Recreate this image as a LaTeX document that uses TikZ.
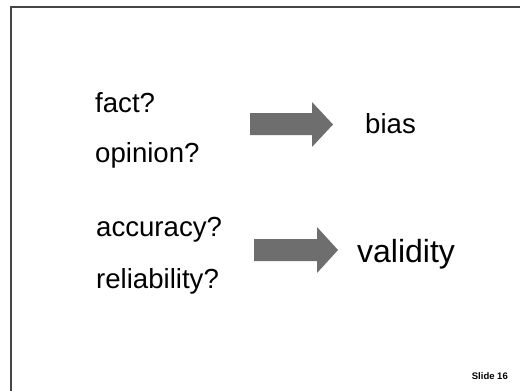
\documentclass[tikz,border=0pt]{standalone}
\usepackage{fontspec}
\setmainfont{Liberation Sans}
\begin{document}
\begin{tikzpicture}[x=1pt,y=-1pt,
  word/.style={anchor=base west,inner sep=0pt,font=\fontsize{27.6}{31}\selectfont},
  blockarrow/.style={fill=arrowgray,draw=none},
  frameline/.style={draw=framegray,line width=2pt}]
\definecolor{arrowgray}{HTML}{6E6E6E}
\definecolor{framegray}{HTML}{454545}
\fill[white] (0,0) rectangle (520,391);
\useasboundingbox (0,0) rectangle (520,391);
\draw[frameline] (10.5,392) -- (10.5,6.5) -- (521,6.5);
\node[word] (fact) at (95,112) {fact?};
\node[word] (opinion) at (95,162) {opinion?};
\node[word] (accuracy) at (96,236.5) {accuracy?};
\node[word] (reliability) at (96,288) {reliability?};
\node[word] (bias) at (365,133) {bias};
\node[word,font=\fontsize{32}{36}\selectfont] (validity) at (357,262) {validity};
\fill[blockarrow] (250,113) -- (312,113) -- (312,102) -- (333,124.5) -- (312,147) -- (312,135) -- (250,135) -- cycle;
\fill[blockarrow] (254,239) -- (317,239) -- (317,227) -- (338,250) -- (317,273) -- (317,261) -- (254,261) -- cycle;
\node[anchor=base east,inner sep=0pt,font=\fontsize{9.5}{11}\selectfont\bfseries] (slide) at (508,379) {Slide 16};
\end{tikzpicture}
\end{document}
